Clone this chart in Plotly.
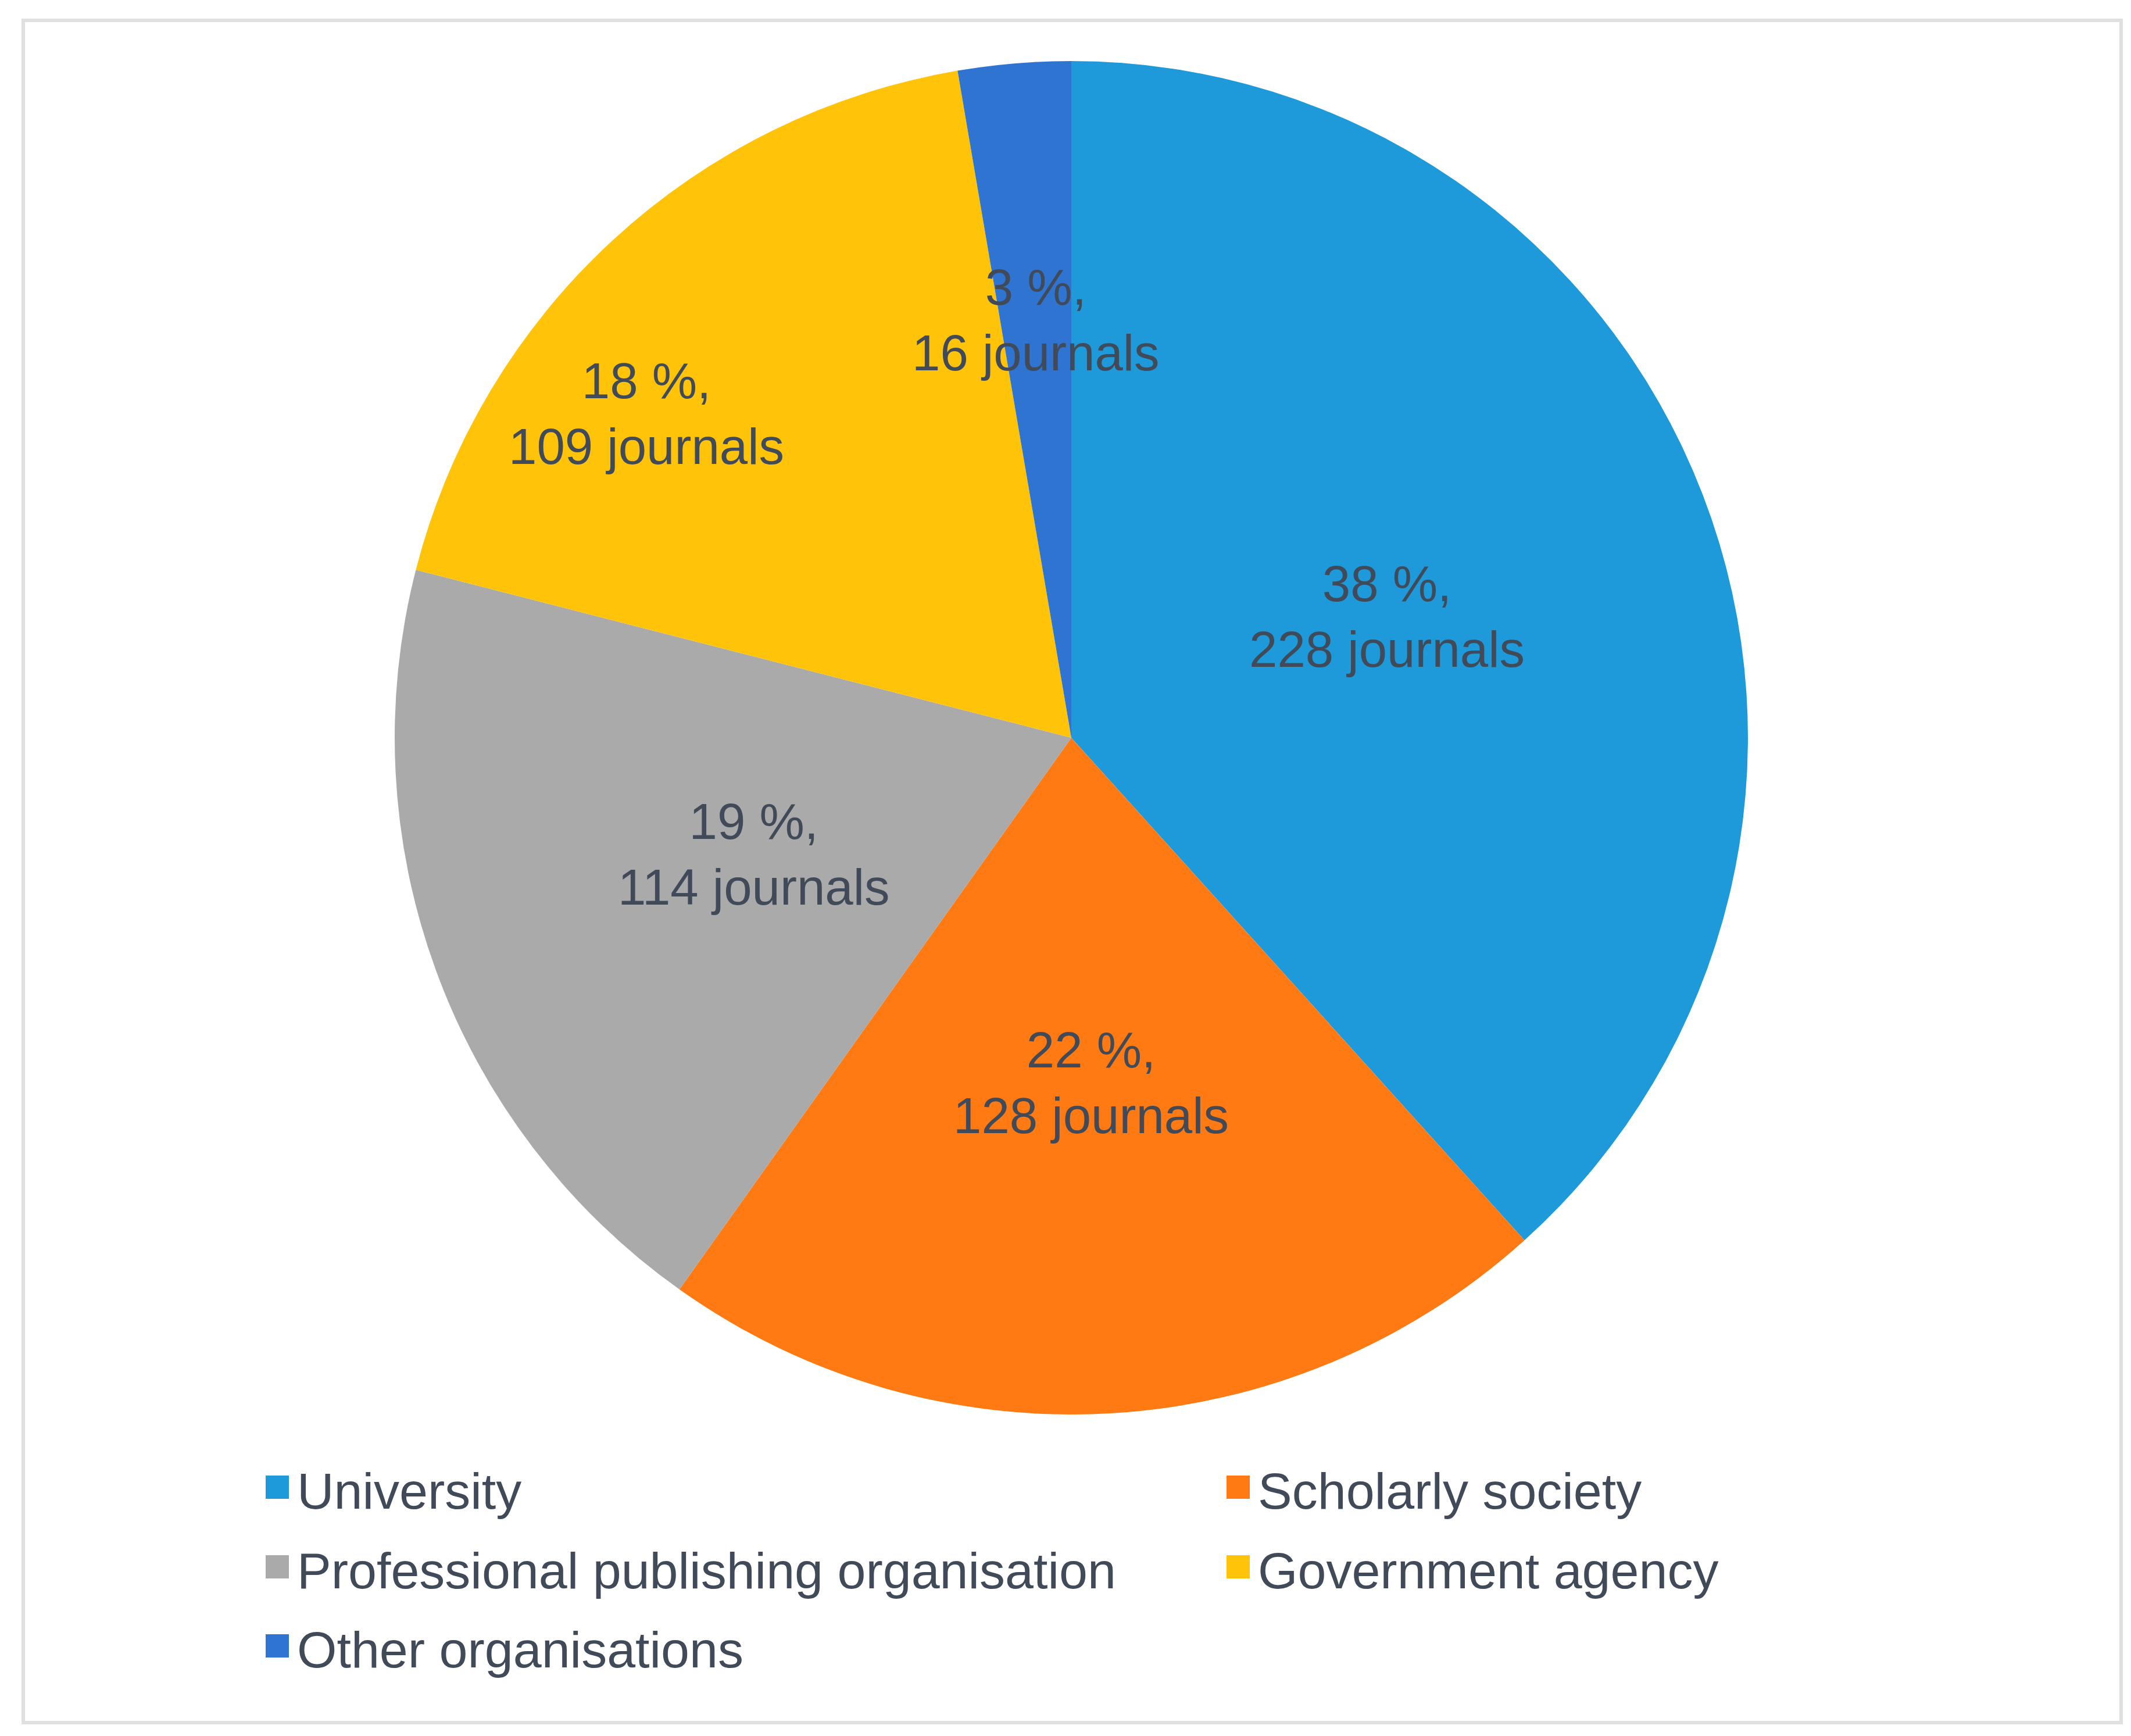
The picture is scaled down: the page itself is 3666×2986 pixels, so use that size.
import math
import plotly.graph_objects as go

# --- data ---
CATEGORIES = ['University', 'Scholarly society', 'Professional publishing organisation',
              'Government agency', 'Other organisations']
JOURNALS = [228, 128, 114, 109, 16]
COLORS = ['#1E9ADB', '#FF7A12', '#AAAAAA', '#FFC40A', '#2E74D0']

# label placement (fraction of radius, angle nudge in degrees)
LABEL_R = [0.50, 0.51, 0.50, 0.79, 0.62]
LABEL_DANG = [0, 0, 0, 10, 0]

W, H = 3666, 2986
FONT = 'Liberation Sans, Arial, sans-serif'
TEXT_COLOR = '#404A58'

# pie domain (paper fraction)
dom_x = [0.18303, 0.81806]
dom_y = [0.18788, 0.96751]

fig = go.Figure(go.Pie(
    labels=CATEGORIES,
    values=JOURNALS,
    sort=False,
    direction='clockwise',
    rotation=0,
    marker=dict(colors=COLORS, line=dict(width=0)),
    textinfo='none',
    hoverinfo='label+value+percent',
    domain=dict(x=dom_x, y=dom_y),
    showlegend=False,
))

# data labels, placed from each slice's mid angle
total = sum(JOURNALS)
cx = (dom_x[0] + dom_x[1]) / 2 * W
cy = (dom_y[0] + dom_y[1]) / 2 * H
radius = min((dom_x[1] - dom_x[0]) * W, (dom_y[1] - dom_y[0]) * H) / 2
cum = 0
for i, v in enumerate(JOURNALS):
    mid = (cum + v / 2) / total
    cum += v
    ang = math.radians(90 - mid * 360 + LABEL_DANG[i])
    px_ = cx + LABEL_R[i] * radius * math.cos(ang)
    py_ = cy + LABEL_R[i] * radius * math.sin(ang)
    pct = round(v / total * 100)
    fig.add_annotation(
        x=px_ / W, y=py_ / H, xref='paper', yref='paper',
        text=f'{pct} %,<br>{v} journals', showarrow=False,
        font=dict(family=FONT, size=87, color=TEXT_COLOR),
        xanchor='center', yanchor='middle', align='center',
    )

# legend: two columns, filled row by row (Excel style)
col_x = [449, 2102]      # left edge of the colour square, px
row_y = [2556, 2693, 2829]  # text centre, px
box = 40
for i, (name, col) in enumerate(zip(CATEGORIES, COLORS)):
    lx = col_x[i % 2]
    ly = row_y[i // 2]
    fig.add_shape(type='rect', xref='paper', yref='paper',
                  x0=lx / W, x1=(lx + box) / W,
                  y0=1 - (ly - 6 + box / 2) / H, y1=1 - (ly - 6 - box / 2) / H,
                  line=dict(width=0), fillcolor=col)
    fig.add_annotation(
        x=(lx + 52) / W, y=1 - ly / H, xref='paper', yref='paper',
        text=name, showarrow=False,
        font=dict(family=FONT, size=88, color=TEXT_COLOR),
        xanchor='left', yanchor='middle',
    )

# light frame round the chart
fig.add_shape(type='rect', xref='paper', yref='paper',
              x0=32 / W, x1=3641 / W, y0=1 - 2955 / H, y1=1 - 27 / H,
              line=dict(color='#E0E0E0', width=6), fillcolor='rgba(0,0,0,0)')

fig.update_layout(
    width=W, height=H,
    margin=dict(l=0, r=0, t=0, b=0),
    paper_bgcolor='white',
    plot_bgcolor='white',
    showlegend=False,
)

fig.write_html('out.html')
